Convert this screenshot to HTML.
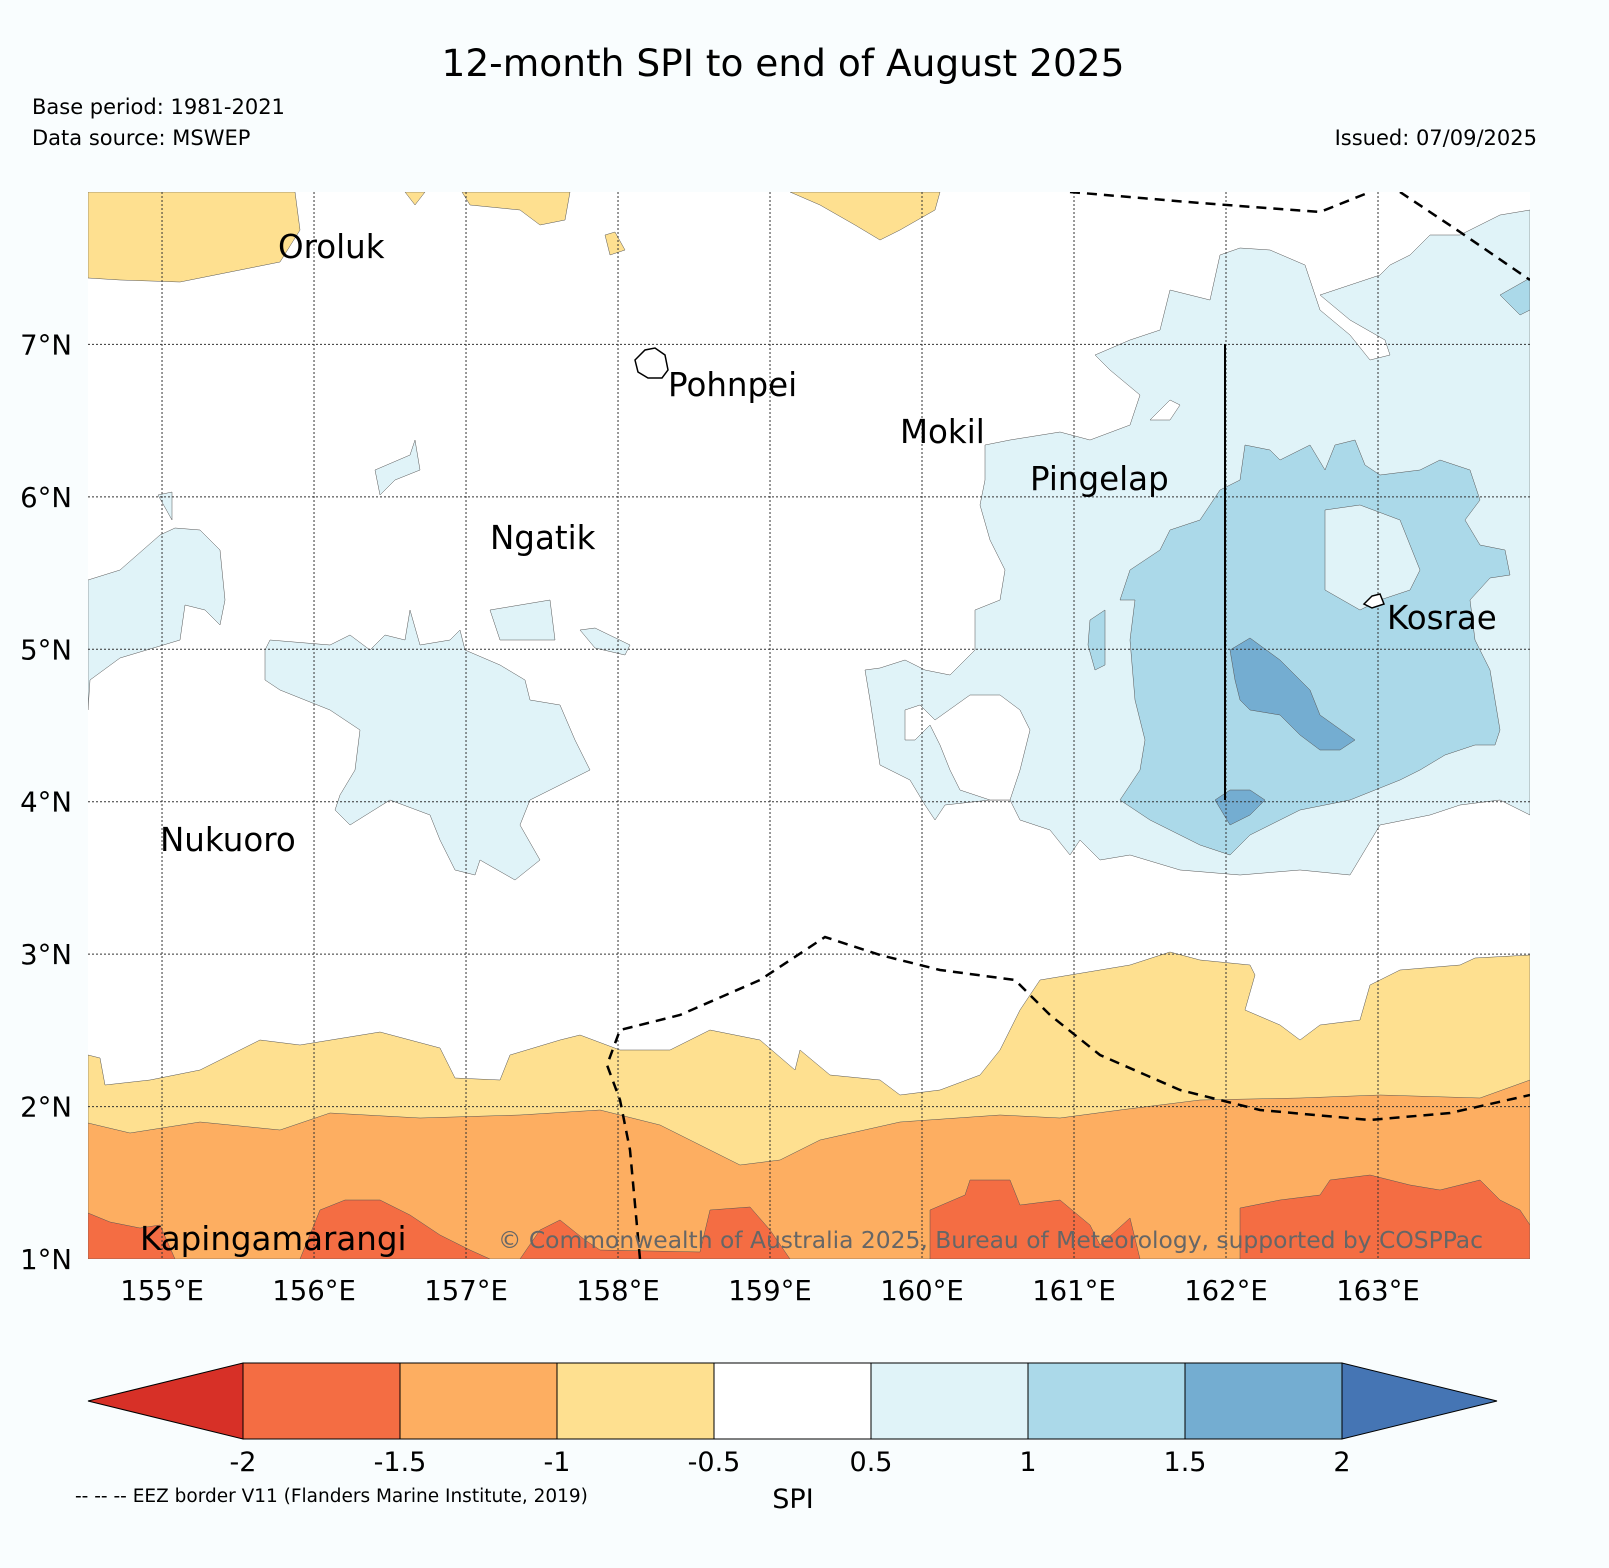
<!DOCTYPE html>
<html><head><meta charset="utf-8"><style>
body{margin:0;background:#f9fdfe;}
svg text{font-family:"DejaVu Sans","Liberation Sans",sans-serif;}
</style></head><body>
<svg id="chart" width="1609" height="1563" viewBox="0 0 1609 1563" xmlns="http://www.w3.org/2000/svg">
<rect width="1609" height="1563" fill="#f9fdfe"/>
<text x="783" y="76" font-size="37.5" text-anchor="middle">12-month SPI to end of August 2025</text>
<text x="32" y="114" font-size="21">Base period: 1981-2021</text>
<text x="32" y="145" font-size="21">Data source: MSWEP</text>
<text x="1537" y="145" font-size="21" text-anchor="end">Issued: 07/09/2025</text>
<defs><clipPath id="mapclip"><rect x="88" y="192" width="1442" height="1067"/></clipPath></defs>
<g clip-path="url(#mapclip)" stroke="#555" stroke-width="0.5">
<rect x="88" y="192" width="1442" height="1067" fill="#ffffff" stroke="none"/>
<path fill="#fee090" d="M88,1055 L100,1058 105,1085 150,1080 200,1070 260,1040 300,1045 380,1032 440,1048 455,1078 500,1080 510,1055 560,1040 580,1035 620,1050 670,1050 710,1030 760,1040 795,1070 800,1050 830,1075 880,1080 900,1095 940,1090 980,1075 1000,1050 1020,1010 1040,980 1070,975 1130,965 1170,952 1200,960 1250,965 1255,975 1245,1010 1280,1025 1300,1040 1320,1025 1360,1020 1370,985 1400,970 1460,965 1475,958 1530,955 1530,1259 88,1259Z"/>
<path fill="#fdae61" d="M88,1123 L130,1133 200,1122 280,1130 330,1113 420,1118 520,1115 600,1110 660,1125 700,1145 740,1165 780,1160 820,1140 900,1122 1000,1115 1060,1118 1120,1110 1200,1100 1300,1098 1380,1095 1480,1098 1530,1080 1530,1259 88,1259Z"/>
<g fill="#f46d43">
<path d="M88,1213 L110,1222 140,1228 160,1225 175,1259 88,1259Z"/>
<path d="M300,1259 L320,1210 345,1200 380,1200 410,1215 440,1235 470,1250 490,1259Z"/>
<path d="M520,1259 L540,1230 560,1220 585,1240 600,1250 700,1252 710,1210 750,1207 770,1230 790,1259Z"/>
<path d="M930,1259 L930,1210 965,1195 970,1180 1010,1180 1020,1205 1060,1200 1090,1225 1100,1245 1130,1218 1140,1259Z"/>
<path d="M1240,1259 L1240,1208 1280,1200 1320,1195 1330,1180 1370,1175 1410,1185 1440,1190 1480,1180 1500,1200 1520,1210 1530,1225 1530,1259Z"/>
</g>
<g fill="#fee090">
<path d="M88,192 L295,192 300,230 280,262 250,268 180,282 120,280 88,278Z"/>
<path d="M405,192 L425,192 415,205Z"/>
<path d="M462,192 L570,192 565,220 540,225 520,210 470,205Z"/>
<path d="M790,192 L940,192 935,210 900,230 880,240 855,225 820,205Z"/>
<path d="M605,235 L615,232 625,250 610,255Z"/>
</g>
<g fill="#e0f3f8">
<path d="M88,580 L120,570 160,535 175,528 200,530 220,550 225,600 220,625 205,610 185,605 180,640 120,658 90,680 88,710Z"/>
<path d="M158,495 L172,492 172,520Z"/>
<path d="M265,650 L270,640 330,645 350,635 370,650 385,635 405,640 410,610 420,645 450,640 460,630 465,650 500,665 525,680 530,700 560,705 575,740 590,770 560,785 530,800 520,825 540,860 515,880 480,860 475,875 455,870 440,840 430,815 390,800 350,825 335,810 340,795 355,770 360,730 330,710 280,690 265,680Z"/>
<path d="M375,470 L410,455 415,440 420,470 395,480 380,495Z"/>
<path d="M490,610 L550,600 555,640 500,640Z"/>
<path d="M580,630 L595,628 630,645 625,655 595,648Z"/>
<path d="M1095,355 L1130,340 1160,330 1170,290 1190,295 1210,300 1220,255 1240,248 1270,250 1305,265 1320,310 1350,335 1370,360 1390,355 1385,340 1350,320 1320,295 1380,275 1390,265 1410,255 1430,235 1460,235 1500,215 1530,210 1530,815 1500,800 1460,805 1430,815 1380,825 1350,875 1300,870 1240,875 1180,870 1130,855 1100,860 1080,840 1070,855 1050,830 1020,820 1010,800 990,800 945,805 935,820 925,805 910,780 880,765 870,700 865,670 880,668 905,660 925,670 950,675 975,650 975,610 1000,600 1005,570 990,540 980,505 985,480 985,445 1010,440 1060,432 1090,440 1130,425 1140,395 1110,370Z"/>
</g>
<g fill="#ffffff">
<path d="M905,710 L920,705 935,720 970,695 1000,695 1020,710 1030,730 1020,770 1010,800 990,800 960,790 950,770 940,745 930,725 915,740 905,740Z"/>
<path d="M1150,420 L1170,400 1180,405 1170,420Z"/>
</g>
<g fill="#abd9e9">
<path d="M1120,800 L1140,770 1145,740 1135,700 1130,640 1135,600 1120,600 1130,570 1160,550 1170,530 1200,520 1220,490 1240,480 1245,445 1270,450 1280,460 1310,445 1325,470 1335,445 1355,440 1365,465 1380,475 1420,470 1440,460 1470,470 1480,500 1465,520 1480,545 1505,550 1510,575 1490,578 1470,600 1475,640 1490,670 1500,730 1495,745 1475,745 1445,755 1420,770 1400,780 1350,800 1300,810 1250,835 1230,855 1200,845 1150,820Z"/>
<path d="M1090,620 L1105,610 1105,665 1095,670 1088,645Z"/>
<path d="M1500,295 L1530,278 1530,310 1520,315Z"/>
</g>
<path fill="#e0f3f8" d="M1325,510 L1360,505 1400,520 1420,570 1410,590 1380,600 1360,610 1325,590Z"/>
<g fill="#74add1">
<path d="M1230,650 L1250,638 1280,660 1310,690 1320,715 1355,740 1340,750 1320,750 1300,735 1280,715 1250,710 1240,700 1235,680Z"/>
<path d="M1215,800 L1230,790 1250,790 1265,800 1250,815 1230,825Z"/>
</g>
<g id="grid" stroke="#333" stroke-width="1" stroke-dasharray="2,2"></g>
<g fill="none" stroke="#000" stroke-width="2.5" stroke-dasharray="10,7">
<path d="M1070,192 L1200,203 1320,212 1370,192"/>
<path d="M1400,192 L1460,232 1530,280"/>
<path d="M640,1259 L630,1150 620,1100 607,1065 620,1030 680,1015 760,980 825,937 880,955 940,970 1015,980 1050,1015 1100,1055 1180,1090 1260,1110 1370,1120 1450,1113 1530,1095"/>
</g>
<line x1="1225" y1="344" x2="1225" y2="800" stroke="#000" stroke-width="2"/>
<path d="M635,360 L645,350 655,348 665,355 668,370 662,378 648,378 638,372Z" fill="#fff" stroke="#000" stroke-width="1.5"/>
<path d="M1364,604 L1372,596 1380,594 1384,604 1372,608Z" fill="#fff" stroke="#000" stroke-width="1.5"/>
</g>
<g font-size="32.5" fill="#000">
<text x="278" y="258">Oroluk</text>
<text x="668" y="396">Pohnpei</text>
<text x="900" y="443">Mokil</text>
<text x="1030" y="490">Pingelap</text>
<text x="490" y="549">Ngatik</text>
<text x="1387" y="629">Kosrae</text>
<text x="160" y="851">Nukuoro</text>
<text x="140" y="1250">Kapingamarangi</text>
</g>
<text x="498" y="1248" font-size="23.4" fill="#666">© Commonwealth of Australia 2025, Bureau of Meteorology, supported by COSPPac</text>
<g id="axes" font-size="27.5"></g>
<g id="cbar"></g>
<text x="793" y="1508" font-size="27" text-anchor="middle">SPI</text>
<text x="75" y="1502" font-size="18.5">-- -- -- EEZ border V11 (Flanders Marine Institute, 2019)</text>
</svg>
<script>
const lonTicks=[155,156,157,158,159,160,161,162,163];
const latTicks=[1,2,3,4,5,6,7];
const cbLevels=[-2,-1.5,-1,-0.5,0.5,1,1.5,2];
const cbLabels=["-2","-1.5","-1","-0.5","0.5","1","1.5","2"];
const cbColors=["#f46d43","#fdae61","#fee090","#ffffff","#e0f3f8","#abd9e9","#74add1"];
const lonMin=154.513,lonMax=164.0,latMin=1,latMax=8;
const X0=88,X1=1530,Y0=192,Y1=1259;
const xs=l=>X0+(l-lonMin)/(lonMax-lonMin)*(X1-X0);
const ys=l=>Y1-(l-latMin)/(latMax-latMin)*(Y1-Y0);
const NS="http://www.w3.org/2000/svg";
function mk(t,a,p){const e=document.createElementNS(NS,t);for(const k in a)e.setAttribute(k,a[k]);p.appendChild(e);return e;}
const grid=document.getElementById('grid'),axes=document.getElementById('axes');
lonTicks.forEach(l=>{
 const g=mk('line',{x1:xs(l),x2:xs(l),y1:Y0,y2:Y1},grid);
 
 
 const t=mk('text',{x:xs(l),y:1300,'text-anchor':'middle'},axes);t.textContent=l+'°E';
 
 
});
latTicks.forEach(l=>{
 if(l>latMin){const g=mk('line',{x1:X0,x2:X1,y1:ys(l),y2:ys(l)},grid);
 
 }
 const t=mk('text',{x:72,y:ys(l)+10,'text-anchor':'end'},axes);t.textContent=l+'°N';
 
 
});
const cb=document.getElementById('cbar');
const cx0=243,cx1=1342,cy0=1363,cy1=1439;
const cbIdx=v=>{const i=cbLevels.indexOf(v);return cx0+i/(cbLevels.length-1)*(cx1-cx0);};
for(let i=0;i<cbColors.length;i++){
 const r=mk('rect',{x:cbIdx(cbLevels[i]),y:cy0,width:cbIdx(cbLevels[i+1])-cbIdx(cbLevels[i]),height:cy1-cy0,fill:cbColors[i],stroke:'#000','stroke-width':1},cb);
 
 
}
const lt=mk('polygon',{points:`88,${(cy0+cy1)/2} ${cx0},${cy0} ${cx0},${cy1}`,fill:'#d73027',stroke:'#000','stroke-width':1},cb);


const rt=mk('polygon',{points:`1497,${(cy0+cy1)/2} ${cx1},${cy0} ${cx1},${cy1}`,fill:'#4575b4',stroke:'#000','stroke-width':1},cb);


cbLevels.forEach((v,i)=>{
 const t=mk('text',{x:cbIdx(v),y:1471,'text-anchor':'middle','font-size':27},cb);t.textContent=cbLabels[i];
 
 
});
</script>
</body></html>
